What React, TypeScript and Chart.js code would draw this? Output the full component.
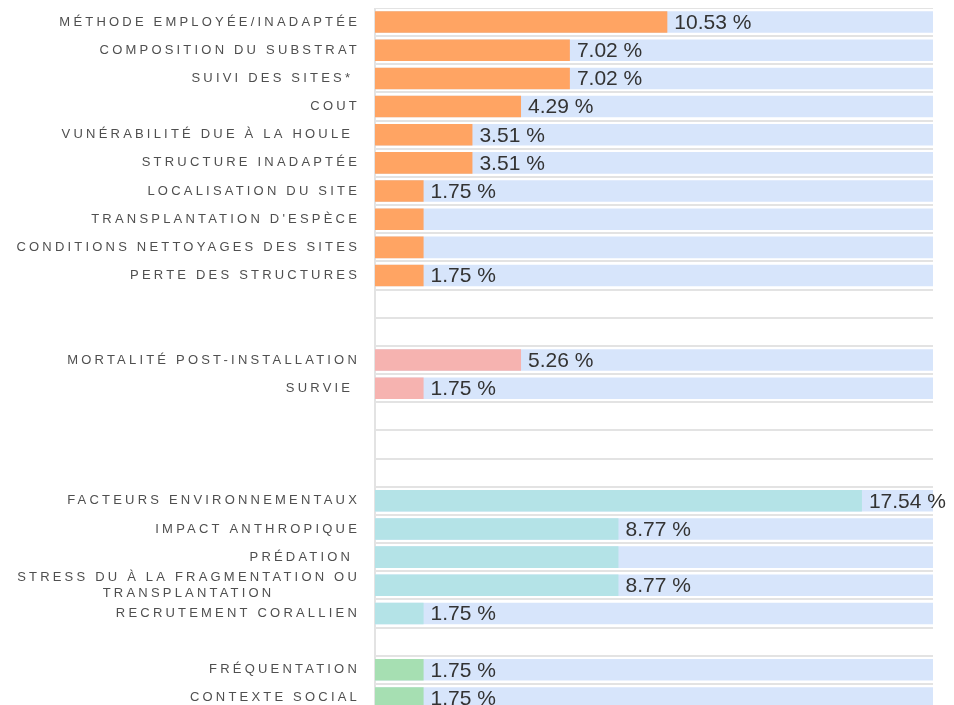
import { useEffect, useRef } from 'react';
import { Chart, registerables } from 'chart.js';

Chart.register(...registerables);

// ---- data ----
const categories: (string | string[])[] = [
  'MÉTHODE EMPLOYÉE/INADAPTÉE',
  'COMPOSITION DU SUBSTRAT',
  'SUIVI DES SITES* ',
  'COUT',
  'VUNÉRABILITÉ DUE À LA HOULE ',
  'STRUCTURE INADAPTÉE',
  'LOCALISATION DU SITE',
  "TRANSPLANTATION D'ESPÈCE",
  'CONDITIONS NETTOYAGES DES SITES',
  'PERTE DES STRUCTURES',
  '',
  '',
  'MORTALITÉ POST-INSTALLATION',
  'SURVIE ',
  '',
  '',
  '',
  'FACTEURS ENVIRONNEMENTAUX',
  'IMPACT ANTHROPIQUE',
  'PRÉDATION ',
  ['STRESS DU À LA FRAGMENTATION OU', 'TRANSPLANTATION'],
  'RECRUTEMENT CORALLIEN',
  '',
  'FRÉQUENTATION',
  'CONTEXTE SOCIAL',
];

const values: (number | null)[] = [
  10.53, 7.02, 7.02, 5.26, 3.51, 3.51, 1.75, 1.75, 1.75, 1.75,
  null, null,
  5.26, 1.75,
  null, null, null,
  17.54, 8.77, 8.77, 8.77, 1.75,
  null,
  1.75, 1.75,
];

const valueLabels: string[] = [
  '10.53 %', '7.02 %', '7.02 %', '4.29 %', '3.51 %', '3.51 %', '1.75 %', '', '', '1.75 %',
  '', '',
  '5.26 %', '1.75 %',
  '', '', '',
  '17.54 %', '8.77 %', '', '8.77 %', '1.75 %',
  '',
  '1.75 %', '1.75 %',
];

const groups: string[] = [
  'A', 'A', 'A', 'A', 'A', 'A', 'A', 'A', 'A', 'A',
  '', '',
  'B', 'B',
  '', '', '',
  'C', 'C', 'C', 'C', 'C',
  '',
  'D', 'D',
];

const scaleMax = 20.1;

// ---- styles ----
const groupColors: Record<string, string> = {
  A: '#FFA463',
  B: '#F6B3B0',
  C: '#B4E3E7',
  D: '#A6DFB2',
  '': 'rgba(0,0,0,0)',
};
const trackColor = '#D7E5FB';
const gridColor = '#E3E3E3';
const LS = 3.2;

const labelPlugin = {
  id: 'customLabels',
  afterDraw(chart: any) {
    const ctx = chart.ctx as CanvasRenderingContext2D;
    const y = chart.scales.y;
    const area = chart.chartArea;
    ctx.save();
    ctx.font = '13px "Liberation Sans", Arial, sans-serif';
    ctx.fillStyle = '#4f4f4f';
    ctx.textBaseline = 'middle';
    ctx.textAlign = 'left';
    (ctx as any).letterSpacing = LS + 'px';
    const right = area.left - 15;
    categories.forEach((cat, i) => {
      const lines = Array.isArray(cat) ? cat : [cat];
      if (!lines.join('')) return;
      const cy = y.getPixelForValue(i);
      const widths = lines.map((l) => ctx.measureText(l).width);
      const maxW = Math.max(...widths);
      const lh = 16;
      lines.forEach((l, k) => {
        const ly = cy + (k - (lines.length - 1) / 2) * lh;
        const x = right - maxW + (maxW - widths[k]) / 2;
        ctx.fillText(l, x, ly);
      });
    });

    (ctx as any).letterSpacing = '0px';
    ctx.font = '21px "Liberation Sans", Arial, sans-serif';
    ctx.fillStyle = '#333333';
    const meta = chart.getDatasetMeta(0);
    valueLabels.forEach((t, i) => {
      if (!t) return;
      const bar = meta.data[i];
      if (!bar) return;
      ctx.fillText(t, bar.x + 7, bar.y + 1);
    });
    ctx.restore();
  },
};

export default function App() {
  const ref = useRef<HTMLCanvasElement>(null);

  useEffect(() => {
    document.documentElement.style.overflow = 'hidden';
    const canvas = ref.current;
    if (!canvas) return;
    const labels = categories.map((c, i) => (Array.isArray(c) ? c.join(' ') : c) || ' '.repeat(i + 1));
    const chart = new Chart(canvas, {
      type: 'bar',
      data: {
        labels,
        datasets: [
          {
            data: values,
            backgroundColor: groups.map((g) => groupColors[g]),
            borderWidth: 0,
            barPercentage: 0.765,
            categoryPercentage: 1,
            grouped: false,
            order: 0,
          } as any,
          {
            data: values.map((v) => (v === null ? null : scaleMax)),
            backgroundColor: trackColor,
            borderWidth: 0,
            barPercentage: 0.765,
            categoryPercentage: 1,
            grouped: false,
            order: 1,
          } as any,
        ],
      },
      options: {
        indexAxis: 'y',
        responsive: false,
        animation: false,
        layout: { padding: { left: 367, right: 21, top: 0, bottom: 0 } },
        plugins: {
          legend: { display: false },
          tooltip: { enabled: false },
        },
        scales: {
          x: {
            display: false,
            min: 0,
            max: scaleMax,
          },
          y: {
            ticks: { display: false },
            grid: {
              color: gridColor,
              lineWidth: 2,
              drawTicks: false,
              offset: true,
            },
            border: { display: true, color: gridColor, width: 2 },
          },
        },
      },
      plugins: [labelPlugin],
    });
    return () => chart.destroy();
  }, []);

  return <canvas ref={ref} width={946} height={704} style={{ display: 'block' }} />;
}
